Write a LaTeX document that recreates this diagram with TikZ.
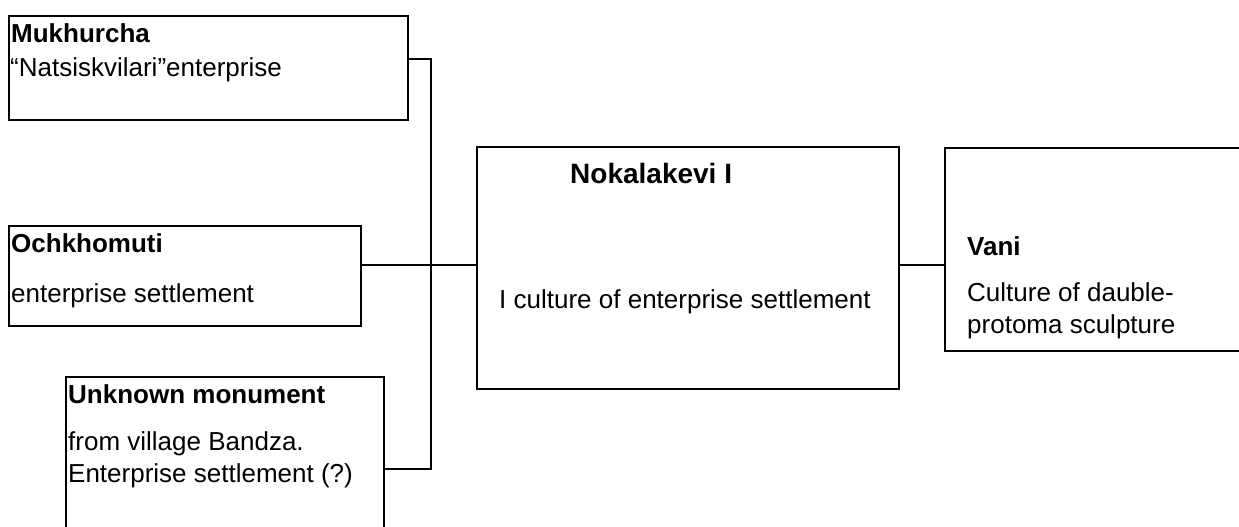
\documentclass[tikz,border=0pt]{standalone}
\usepackage{fontspec}
\setmainfont{Liberation Sans}
\begin{document}
\begin{tikzpicture}[x=1pt,y=-1pt,
  box/.style={draw=black,line width=1.5pt,rectangle,anchor=north west,inner sep=0pt,outer sep=0pt},
  conn/.style={draw=black,line width=1.5pt},
  txt/.style={anchor=base west,inner sep=0pt,font=\fontsize{26}{30}\selectfont},
  btxt/.style={txt,font=\fontsize{26}{30}\selectfont\bfseries},
  ttxt/.style={txt,font=\fontsize{28}{32}\selectfont\bfseries}]
\useasboundingbox (0,0) rectangle (1239,527);
\clip (0,0) rectangle (1239,527);
% boxes
\node[box,minimum width=399pt,minimum height=104pt] (muk) at (9,16) {};
\node[box,minimum width=352pt,minimum height=100pt] (och) at (9,226) {};
\node[box,minimum width=318pt,minimum height=170pt] (unk) at (66,377) {};
\node[box,minimum width=422pt,minimum height=242pt] (nok) at (477,147) {};
\node[box,minimum width=320pt,minimum height=203pt] (van) at (945,148) {};
% texts
\node[btxt] (t1) at (11,43) {Mukhurcha};
\node[txt] (t2) at (10,76) {“Natsiskvilari”enterprise};
\node[btxt] (t3) at (11,252) {Ochkhomuti};
\node[txt] (t4) at (11,302) {enterprise settlement};
\node[btxt] (t5) at (68,403) {Unknown monument};
\node[txt] (t6) at (68,450) {from village Bandza.};
\node[txt] (t7) at (68,482) {Enterprise settlement (?)};
\node[ttxt] (t8) at (570,183) {Nokalakevi I};
\node[txt] (t9) at (499,308) {I culture of enterprise settlement};
\node[btxt] (t10) at (967,255) {Vani};
\node[txt] (t11) at (967,301) {Culture of dauble-};
\node[txt] (t12) at (967,333) {protoma sculpture};
% connectors
\coordinate (jt) at (431,59);
\coordinate (jm) at (431,265);
\coordinate (jb) at (431,469);
\draw[conn] (muk.east|-jt) -- (jt) -- (jb) -- (unk.east|-jb);
\draw[conn] (och.east|-jm) -- (nok.west|-jm);
\draw[conn] (nok.east|-jm) -- (van.west|-jm);
\end{tikzpicture}
\end{document}
